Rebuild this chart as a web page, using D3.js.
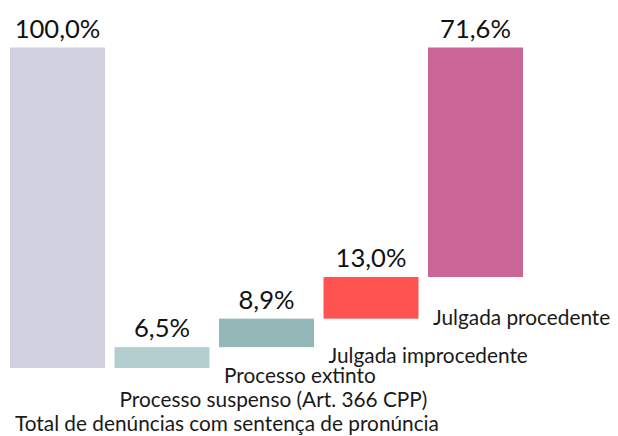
<!DOCTYPE html>
<html>
<head>
<meta charset="utf-8">
<script src="https://cdn.jsdelivr.net/npm/d3@7"></script>
<style>
  body { margin: 0; background: #fff; }
  text { font-family: Lato, sans-serif; }
</style>
</head>
<body>
<svg id="chart"></svg>
<script>
const categories = [
  'Total de denúncias com sentença de pronúncia',
  'Processo suspenso (Art. 366 CPP)',
  'Processo extinto',
  'Julgada improcedente',
  'Julgada procedente'
]
const values = [100.0, 6.5, 8.9, 13.0, 71.6]
const isTotal = [true, false, false, false, false]
const colors = ['#d2d1e2', '#b3cece', '#94b8b7', '#fe5350', '#cb6595']

const width = 618
const height = 436

// waterfall: total bar starts at 0, the others stack up from 0
let running = 0
const data = categories.map((c, i) => {
  let start, end
  if (isTotal[i]) {
    start = 0
    end = values[i]
  } else {
    start = running
    end = running + values[i]
    running = end
  }
  return { name: c, value: values[i], start, end, color: colors[i] }
})

const xScale = d3.scaleBand()
  .domain(categories)
  .range([10, 523])
  .paddingInner(0.091)
  .paddingOuter(0)

const yScale = d3.scaleLinear()
  .domain([0, 100])
  .range([368, 47.5])

const fmt = d => d3.format('.1f')(d).replace('.', ',') + '%'

const svg = d3.select('#chart')
  .attr('width', width)
  .attr('height', height)

svg.selectAll('rect.bar')
  .data(data)
  .enter()
  .append('rect')
  .attr('class', 'bar')
  .attr('x', d => xScale(d.name))
  .attr('width', xScale.bandwidth())
  .attr('y', d => yScale(d.end))
  .attr('height', d => yScale(d.start) - yScale(d.end))
  .attr('fill', d => d.color)

svg.selectAll('text.value')
  .data(data)
  .enter()
  .append('text')
  .attr('class', 'value')
  .attr('x', d => xScale(d.name) + xScale.bandwidth() / 2)
  .attr('y', d => yScale(d.end) - 10)
  .attr('text-anchor', 'middle')
  .attr('font-size', 25.6)
  .attr('fill', '#111')
  .text(d => fmt(d.value))

// category labels, stacked so they don't collide
const labelBaseline = [431, 407, 383, 363, 325]

svg.selectAll('text.cat')
  .data(data)
  .enter()
  .append('text')
  .attr('class', 'cat')
  .attr('x', d => xScale(d.name) + 5)
  .attr('y', (d, i) => labelBaseline[i])
  .attr('font-size', 20.8)
  .attr('fill', '#1a1a1a')
  .text(d => d.name)
</script>
</body>
</html>
